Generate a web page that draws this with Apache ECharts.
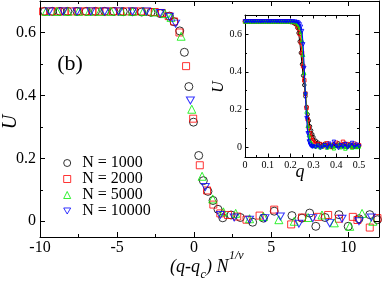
<!DOCTYPE html>
<html><head><meta charset="utf-8">
<script src="https://cdn.jsdelivr.net/npm/echarts@6/dist/echarts.min.js"></script>
<style>html,body{margin:0;padding:0;background:#fff}#c{width:382px;height:285px}</style>
</head><body><div id="c"></div>
<script>
// ---- main panel: scaled data (q-qc) N^{1/nu} vs U ----
const seriesNames = ['N = 1000', 'N = 2000', 'N = 5000', 'N = 10000'];
const n1000X = [-9.7,-9.2,-8.7,-8.2,-7.6,-7.0,-6.4,-5.8,-5.2,-4.6,-4.0,-3.4,-2.8,-2.2,-1.6,-1.3,-0.93,-0.63,-0.34,-0.04,0.3,0.6,0.9,1.23,1.55,1.86,2.4,3.0,3.8,4.5,5.2,6.35,7.0,7.5,7.9,8.5,9.4,10.0,10.7,11.4,11.9];
const n1000Y = [0.667,0.667,0.667,0.667,0.667,0.667,0.667,0.667,0.667,0.666,0.666,0.665,0.664,0.66,0.652,0.634,0.605,0.537,0.428,0.315,0.209,0.129,0.095,0.066,0.038,0.011,0.02,0.012,-0.003,0.01,0.032,0.018,0.01,0.026,-0.016,0.012,0.021,-0.016,0.008,0.021,0.005];
const n2000X = [-9.8,-9.3,-8.85,-8.4,-7.95,-7.5,-7.05,-6.6,-6.15,-5.7,-5.25,-4.8,-4.35,-3.9,-3.45,-3.0,-2.55,-2.1,-1.65,-1.3,-0.95,-0.52,-0.06,0.37,0.84,1.25,1.7,2.2,2.8,3.4,4.25,5.2,6.3,7.0,8.05,8.7,9.4,10.3,10.6,11.4,11.9];
const n2000Y = [0.667,0.667,0.667,0.667,0.667,0.667,0.667,0.667,0.667,0.667,0.667,0.667,0.667,0.667,0.667,0.666,0.665,0.662,0.652,0.635,0.60,0.493,0.326,0.178,0.098,0.053,0.025,0.02,0.015,0.005,0.018,0.037,-0.01,0.012,0.014,0.02,0.008,0.014,0.004,-0.02,0.01];
const n5000X = [-9.6,-8.9,-8.2,-7.5,-6.8,-6.1,-5.4,-4.7,-4.0,-3.3,-2.6,-1.9,-1.5,-0.84,-0.15,0.52,1.21,1.9,2.7,3.6,4.5,5.5,6.5,7.4,8.3,9.1,10.1,10.9,11.6];
const n5000Y = [0.667,0.667,0.667,0.667,0.667,0.667,0.667,0.667,0.667,0.667,0.665,0.66,0.648,0.588,0.356,0.143,0.071,0.03,0.025,0.008,0.015,0.005,0.0,0.012,0.02,-0.005,-0.016,0.025,0.0];
const n10000X = [-9.4,-8.5,-7.6,-6.7,-5.8,-4.9,-4.0,-3.1,-2.2,-1.6,-1.2,-0.24,0.73,1.7,2.6,3.6,4.6,5.6,6.8,7.7,8.8,9.6,10.7,11.5];
const n10000Y = [0.667,0.667,0.667,0.667,0.667,0.667,0.667,0.667,0.662,0.65,0.628,0.384,0.109,0.02,0.012,0.005,0.01,0.015,-0.008,0.01,-0.006,0.008,0.0,0.012];

// ---- inset: U vs q ----
const insetQ = [0,0.01,0.02,0.03,0.04,0.05,0.06,0.07,0.08,0.09,0.10,0.11,0.12,0.13,0.14,0.15,0.16,0.17,0.18,0.19,0.20,0.21,0.22,0.23,0.235,0.24,0.245,0.25,0.255,0.26,0.265,0.27,0.275,0.28,0.285,0.29,0.295,0.30,0.31,0.32,0.33,0.34,0.35,0.36,0.37,0.38,0.39,0.40,0.41,0.42,0.43,0.44,0.45,0.46,0.47,0.48,0.49,0.50];
const in1000 = [0.666,0.666,0.666,0.666,0.666,0.666,0.666,0.666,0.666,0.666,0.666,0.666,0.666,0.666,0.666,0.666,0.666,0.666,0.666,0.665,0.663,0.66,0.652,0.632,0.605,0.56,0.5,0.44,0.38,0.33,0.27,0.215,0.175,0.142,0.112,0.09,0.07,0.055,0.036,0.026,0.018,0.012,0.02,0.008,0.015,0.004,0.018,0.01,0.022,0.006,0.014,0.02,0.005,0.016,0.008,0.012,0.004,0.01];
const in2000 = [0.666,0.666,0.666,0.666,0.666,0.666,0.666,0.666,0.666,0.666,0.666,0.666,0.666,0.666,0.666,0.666,0.666,0.666,0.666,0.666,0.665,0.663,0.658,0.645,0.63,0.6,0.555,0.5,0.43,0.355,0.285,0.21,0.15,0.105,0.075,0.052,0.038,0.028,0.02,0.012,0.018,0.006,0.014,0.022,0.01,0.003,0.015,0.025,0.008,0.012,0.03,0.005,0.018,0.01,0.004,0.02,0.008,0.012];
const in5000 = [0.666,0.666,0.666,0.666,0.666,0.666,0.666,0.666,0.666,0.666,0.666,0.666,0.666,0.666,0.666,0.666,0.666,0.666,0.666,0.666,0.666,0.665,0.663,0.657,0.65,0.635,0.61,0.565,0.49,0.395,0.29,0.19,0.115,0.065,0.038,0.024,0.016,0.01,0.006,0.012,0.002,0.008,0.015,0.0,0.006,0.012,-0.004,0.008,0.014,0.002,0.01,-0.005,0.006,0.012,0.0,0.008,0.003,0.006];
const in10000 = [0.666,0.666,0.666,0.666,0.666,0.666,0.666,0.666,0.666,0.666,0.666,0.666,0.666,0.666,0.666,0.666,0.666,0.666,0.666,0.666,0.666,0.666,0.665,0.662,0.658,0.65,0.638,0.615,0.545,0.42,0.28,0.155,0.075,0.032,0.015,0.008,0.004,0.006,0.002,0.01,-0.002,0.004,0.012,0.0,0.02,0.005,0.03,0.008,-0.003,0.012,0.004,0.018,0.0,0.01,0.024,0.002,0.015,0.006];

// ---- ticks ----
const mainXTicks = [-10,-5,0,5,10];
const mainXMinor = [-7.5,-2.5,2.5,7.5];
const mainYTicks = [0,0.2,0.4,0.6];
const mainYMinor = [0.1,0.3,0.5];
const inXTicks = [0,0.1,0.2,0.3,0.4,0.5];
const inXMinor = [0.05,0.15,0.25,0.35,0.45];
const inYTicks = [0,0.2,0.4,0.6];
const inYMinor = [0.1,0.3,0.5];

const FONT = 'Liberation Serif';
const colors = ['#000000', '#ff0000', '#00ee00', '#0000ff'];
const symbols = ['circle', 'rect', 'triangle', 'path://M0,0L10,0L5,8.66Z'];
const mainSizes = [8, 7, 8, [8, 7]];

function axis(o) {
  return {
    type: 'value', gridIndex: o.grid, position: o.pos, min: o.min, max: o.max, z: 8,
    axisLine: { show: o.line !== false, onZero: false, lineStyle: { color: '#000', width: 1 } },
    axisTick: { show: true, inside: true, length: o.len, customValues: o.ticks, lineStyle: { color: '#000', width: 1 } },
    axisLabel: o.labels ? { show: true, customValues: o.labels, margin: o.margin, fontFamily: FONT, fontSize: o.fs, color: '#000' } : { show: false },
    splitLine: { show: false }, minorTick: { show: false }, minorSplitLine: { show: false },
    axisPointer: { show: false }
  };
}

const xAxes = [
  axis({grid:0,pos:'bottom',min:-10,max:12,len:5,ticks:mainXTicks,labels:mainXTicks,margin:3,fs:16}),
  axis({grid:0,pos:'bottom',min:-10,max:12,len:3,ticks:mainXMinor,line:false}),
  axis({grid:0,pos:'top',min:-10,max:12,len:5,ticks:mainXTicks}),
  axis({grid:0,pos:'top',min:-10,max:12,len:3,ticks:mainXMinor,line:false}),
  axis({grid:1,pos:'bottom',min:0,max:0.5,len:3.5,ticks:inXTicks,labels:inXTicks,margin:3,fs:10}),
  axis({grid:1,pos:'bottom',min:0,max:0.5,len:2,ticks:inXMinor,line:false}),
  axis({grid:1,pos:'top',min:0,max:0.5,len:3.5,ticks:inXTicks}),
  axis({grid:1,pos:'top',min:0,max:0.5,len:2,ticks:inXMinor,line:false})
];
const yAxes = [
  axis({grid:0,pos:'left',min:-0.05,max:0.7,len:5,ticks:mainYTicks,labels:mainYTicks,margin:4,fs:16}),
  axis({grid:0,pos:'left',min:-0.05,max:0.7,len:3,ticks:mainYMinor,line:false}),
  axis({grid:0,pos:'right',min:-0.05,max:0.7,len:5,ticks:mainYTicks}),
  axis({grid:0,pos:'right',min:-0.05,max:0.7,len:3,ticks:mainYMinor,line:false}),
  axis({grid:1,pos:'left',min:-0.05,max:0.7,len:3.5,ticks:inYTicks,labels:inYTicks,margin:3,fs:10}),
  axis({grid:1,pos:'left',min:-0.05,max:0.7,len:2,ticks:inYMinor,line:false}),
  axis({grid:1,pos:'right',min:-0.05,max:0.7,len:3.5,ticks:inYTicks}),
  axis({grid:1,pos:'right',min:-0.05,max:0.7,len:2,ticks:inYMinor,line:false})
];

const mainX = [n1000X, n2000X, n5000X, n10000X];
const mainY = [n1000Y, n2000Y, n5000Y, n10000Y];
const insetU = [in1000, in2000, in5000, in10000];
const zip = (a, b) => a.map((v, i) => [v, b[i]]);

const series = [];
for (let k = 0; k < 4; k++) {
  series.push({
    name: seriesNames[k], type: 'scatter', xAxisIndex: 0, yAxisIndex: 0,
    symbol: symbols[k], symbolSize: mainSizes[k],
    itemStyle: { color: 'rgba(255,255,255,0)', borderColor: colors[k], borderWidth: 1 },
    data: zip(mainX[k], mainY[k]), z: 3 + k
  });
}
for (let k = 0; k < 4; k++) {
  series.push({
    name: 'inset ' + seriesNames[k], type: 'line', xAxisIndex: 4, yAxisIndex: 4,
    symbol: symbols[k], symbolSize: 3.5, showSymbol: true, showAllSymbol: true,
    lineStyle: { color: colors[k], width: 1 },
    itemStyle: { color: 'rgba(255,255,255,0)', borderColor: colors[k], borderWidth: 0.9 },
    data: zip(insetQ, insetU[k]), z: 10 + k
  });
}

const chart = echarts.init(document.getElementById('c'), null, { renderer: 'canvas' });
chart.setOption({
  animation: false,
  backgroundColor: '#fff',
  textStyle: { fontFamily: FONT },
  grid: [
    { left: 40, top: 1, width: 339, height: 236, show: false },
    { left: 245, top: 15, width: 114, height: 142, show: true, backgroundColor: '#fff', borderWidth: 0 }
  ],
  xAxis: xAxes,
  yAxis: yAxes,
  legend: {
    data: seriesNames, orient: 'vertical', left: 63.2, top: 155, padding: 0, itemGap: 0,
    itemWidth: 7, itemHeight: 7, selectedMode: false,
    itemStyle: { borderWidth: 1 },
    textStyle: { fontFamily: FONT, fontSize: 16, color: '#000', lineHeight: 15, padding: [0, 0, 0, 6.5] }
  },
  graphic: [
    { type: 'text', x: 70, y: 64, style: { text: '(b)', fontFamily: FONT, fontSize: 22, fill: '#000', align: 'center', verticalAlign: 'middle' } },
    { type: 'text', x: 11, y: 122, rotation: Math.PI / 2, style: { text: 'U', fontFamily: FONT, fontStyle: 'italic', fontSize: 20, fill: '#000', align: 'center', verticalAlign: 'middle' } },
    { type: 'text', x: 170, y: 267, style: { text: '(q-q', fontFamily: FONT, fontStyle: 'italic', fontSize: 18, fill: '#000', align: 'left', verticalAlign: 'middle' } },
    { type: 'text', x: 200.5, y: 275, style: { text: 'c', fontFamily: FONT, fontStyle: 'italic', fontSize: 12, fill: '#000', align: 'left', verticalAlign: 'middle' } },
    { type: 'text', x: 206, y: 267, style: { text: ') N', fontFamily: FONT, fontStyle: 'italic', fontSize: 18, fill: '#000', align: 'left', verticalAlign: 'middle' } },
    { type: 'text', x: 229, y: 256, style: { text: '1/ν', fontFamily: FONT, fontStyle: 'italic', fontSize: 12, fill: '#000', align: 'left', verticalAlign: 'middle' } },
    { type: 'text', x: 219, y: 87, rotation: Math.PI / 2, style: { text: 'U', fontFamily: FONT, fontStyle: 'italic', fontSize: 16, fill: '#000', align: 'center', verticalAlign: 'middle' } },
    { type: 'text', x: 300, y: 172, style: { text: 'q', fontFamily: FONT, fontStyle: 'italic', fontSize: 18, fill: '#000', align: 'center', verticalAlign: 'middle' } }
  ],
  series: series
});
</script></body></html>
